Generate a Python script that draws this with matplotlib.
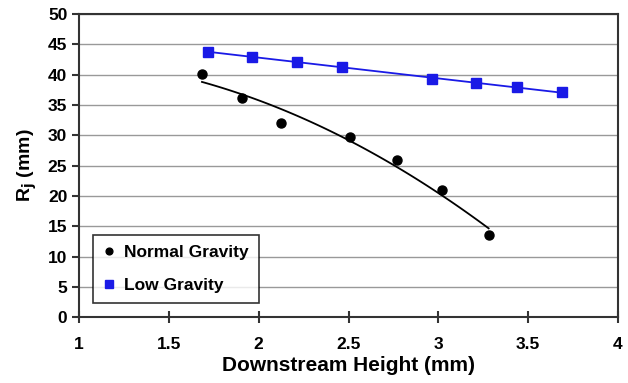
import numpy as np
import matplotlib.pyplot as plt

plt.rcParams['font.family'] = ['Liberation Sans', 'DejaVu Sans']
plt.rcParams['font.weight'] = 'bold'

normal_x = [1.684, 1.907, 2.124, 2.508, 2.77, 3.02, 3.28]
normal_y = [40.2, 36.1, 32.1, 29.7, 25.9, 21.0, 13.5]

low_x = [1.718, 1.963, 2.213, 2.464, 2.964, 3.209, 3.437, 3.688]
low_y = [43.8, 43.0, 42.1, 41.3, 39.3, 38.6, 37.9, 37.2]

fig = plt.figure(figsize=(6.28, 3.83), dpi=100)
ax = fig.add_axes([0.126, 0.172, 0.858, 0.791])

# fitted trend lines
cn = np.polyfit(normal_x, normal_y, 2)
xn = np.linspace(min(normal_x), max(normal_x), 100)
ax.plot(xn, np.polyval(cn, xn), color='black', lw=1.3, zorder=3)
cl = np.polyfit(low_x, low_y, 1)
xl = np.linspace(min(low_x), max(low_x), 10)
ax.plot(xl, np.polyval(cl, xl), color='#1a1ae6', lw=1.3, zorder=3)

ax.plot(normal_x, normal_y, 'o', color='black', ms=6.5, label='Normal Gravity', zorder=4)
ax.plot(low_x, low_y, 's', color='#1a1ae6', ms=7.5, label='Low Gravity', zorder=4)

ax.set_xlim(1, 4)
ax.set_ylim(0, 50)
ax.set_xticks(np.arange(1, 4.01, 0.5))
ax.set_xticklabels(['1', '1.5', '2', '2.5', '3', '3.5', '4'])
ax.set_yticks(np.arange(0, 51, 5))
ax.grid(axis='y', color='#999999', lw=1)
ax.set_axisbelow(True)
for s in ax.spines.values():
    s.set_color('#333333')
    s.set_linewidth(1.5)
ax.tick_params(axis='both', labelsize=12.5, direction='out', length=5, width=1.5, color='#333333')
ax.tick_params(axis='x', direction='inout', length=8, pad=10)

ax.set_xlabel('Downstream Height (mm)', fontsize=15, fontweight='bold', labelpad=3)
ax.set_ylabel('R$_\\mathbf{j}$ (mm)', fontsize=14, fontweight='bold', labelpad=6)

leg = ax.legend(loc='lower left', bbox_to_anchor=(0.026, 0.046), borderaxespad=0,
                fontsize=12.5, frameon=True, fancybox=False, edgecolor='black',
                handlelength=0.6, handletextpad=0.6, labelspacing=1.0, borderpad=0.6,
                markerscale=0.75)
leg.get_frame().set_linewidth(1.2)

fig.savefig('out.png', dpi=100)
